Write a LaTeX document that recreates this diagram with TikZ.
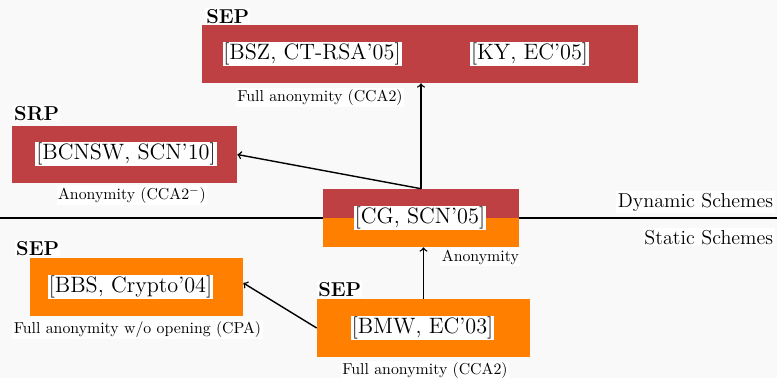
\documentclass[tikz,border=0pt]{standalone}
\usetikzlibrary{fit,calc}
\definecolor{paper}{RGB}{249,249,249}
\definecolor{dynred}{RGB}{190,64,67}
\definecolor{statorange}{RGB}{255,128,0}
\begin{document}
\begin{tikzpicture}[x=0.641pt,y=-0.641pt,
  dynbox/.style={inner sep=0pt, fill=dynred, draw=none},
  statbox/.style={inner sep=0pt, fill=statorange, draw=none},
  ref/.style={fill=white, inner xsep=0.6pt, inner ysep=0.8pt, font=\fontsize{14.25}{17}\selectfont},
  note/.style={fill=white, inner sep=1pt, font=\fontsize{10.15}{12}\selectfont},
  tag/.style={fill=white, inner sep=0.6pt, font=\fontsize{12.9}{15}\selectfont\bfseries},
  realm/.style={fill=white, inner sep=1pt, font=\fontsize{12.9}{15}\selectfont},
  link/.style={->, line width=0.9pt}]

% paper
\fill[paper] (0,0) rectangle (777,378);
\useasboundingbox (0,0) rectangle (777,378);

% dynamic / static divider
\draw[line width=1.2pt] (0,218) -- (777,218);

% scheme boxes
\node[dynbox, fit={(202,25) (638,83)}] (sep05) {};
\node[dynbox, fit={(12,126) (237,183)}] (srp10) {};
\node[statbox, fit={(323,189) (519,247)},
      path picture={\fill[dynred] (path picture bounding box.north west)
                     rectangle (path picture bounding box.east);}] (cg05) {};
\node[statbox, fit={(30,258) (243,316)}] (bbs04) {};
\node[statbox, fit={(317,299) (530,357)}] (bmw03) {};

% references
\node[ref] (bsz) at (312,54) {[BSZ, CT-RSA'05]};
\node[ref] (ky) at (529.5,54) {[KY, EC'05]};
\node[ref] (bcnsw) at (126,154) {[BCNSW, SCN'10]};
\node[ref] (cg) at (420,218) {[CG, SCN'05]};
\node[ref] (bbs) at (130.5,287) {[BBS, Crypto'04]};
\node[ref] (bmw) at (422.5,328) {[BMW, EC'03]};

% model tags
\node[tag, anchor=base west] (tagsep05) at (205,23) {SEP};
\node[tag, anchor=base west] (tagsrp10) at (13,120) {SRP};
\node[tag, anchor=base west] (tagbbs04) at (15,255) {SEP};
\node[tag, anchor=base west] (tagbmw03) at (317,296) {SEP};

% security notions
\node[note, anchor=base] (nsep05) at (320,101) {Full anonymity (CCA2)};
\node[note, anchor=base] (nsrp10) at (132,199) {Anonymity (CCA2$^{-}$)};
\node[note, anchor=base west] (ncg05) at (440,261) {Anonymity};
\node[note, anchor=base west] (nbbs04) at (12,333) {Full anonymity w/o opening (CPA)};
\node[note, anchor=base] (nbmw03) at (425,374) {Full anonymity (CCA2)};

% realm labels
\node[realm, anchor=base east] (dyn) at (775,207) {Dynamic Schemes};
\node[realm, anchor=base east] (stat) at (775,244) {Static Schemes};

% implications
\draw[link] (cg05.north) -- (cg05.north |- sep05.south);
\draw[link] (cg05.north) -- (srp10.east);
\draw[link] (bmw03.north) -- (bmw03.north |- cg05.south);
\draw[link] (bmw03.west) -- ($(bbs04.east)+(0,-4)$);
\end{tikzpicture}
\end{document}
